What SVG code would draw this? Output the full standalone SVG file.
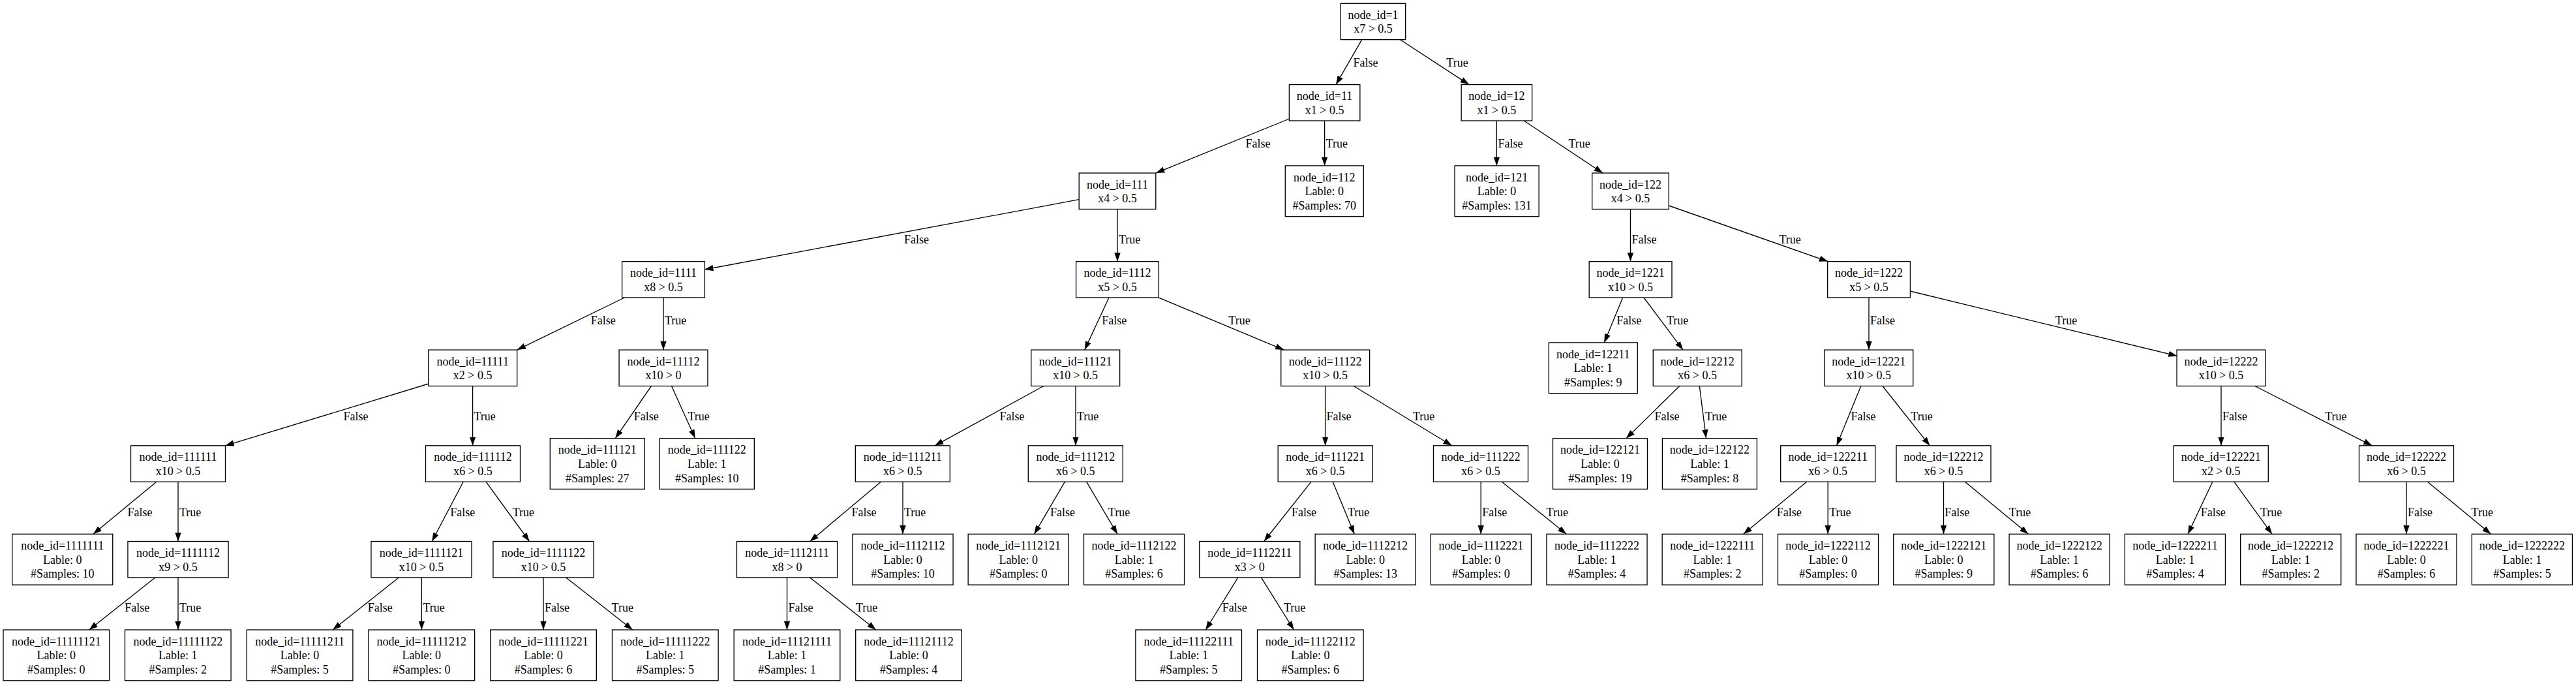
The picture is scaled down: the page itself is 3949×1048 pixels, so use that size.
<svg xmlns="http://www.w3.org/2000/svg" width="3949" height="1048" viewBox="0 0 3949 1048">
<style>
.n rect{fill:none;stroke:#000;stroke-width:1.33}
.n text{font-family:"Liberation Serif","Times New Roman",serif;font-size:18px;text-anchor:middle;fill:#000}
.e path{fill:none;stroke:#000;stroke-width:1.33;marker-end:url(#ah)}
.e text{font-family:"Liberation Serif","Times New Roman",serif;font-size:18px;fill:#000}
</style>
<defs>
<marker id="ah" markerUnits="userSpaceOnUse" viewBox="0 0 13.3 9.4" refX="13.3" refY="4.7" markerWidth="13.3" markerHeight="9.4" orient="auto"><path d="M0,0L13.3,4.7L0,9.4z" fill="#000"/></marker>
</defs>
<rect width="3949" height="1048" fill="#fff"/>
<g id="edges" class="e">
<path d="M2087.8,60.7L2048,129.6"/><text x="2074.5" y="102">False</text>
<path d="M2146.4,60.7L2252,129.6"/><text x="2217.3" y="102">True</text>
<path d="M1976.5,182L1772,265.1"/><text x="1909.4" y="226.3">False</text>
<path d="M2030.6,185L2030.6,253.9"/><text x="2032.6" y="226.3">True</text>
<path d="M2294.4,185L2294.4,253.9"/><text x="2296.4" y="226.3">False</text>
<path d="M2336.2,185L2457,265.1"/><text x="2404.4" y="226.3">True</text>
<path d="M1654.3,305.7L1080.2,413"/><text x="1386" y="372.9">False</text>
<path d="M1713,320.5L1713,400.6"/><text x="1715" y="372.9">True</text>
<path d="M2499.5,320.5L2499.5,400.6"/><text x="2501.5" y="372.9">False</text>
<path d="M2558.2,315L2802.2,400.6"/><text x="2727.5" y="372.9">True</text>
<path d="M957.4,456L792.7,536.1"/><text x="905.7" y="497.2">False</text>
<path d="M1017,456L1017,536.1"/><text x="1019" y="497.2">True</text>
<path d="M1700,456L1662.7,536.1"/><text x="1689.3" y="497.2">False</text>
<path d="M1776,456L1968.3,536.1"/><text x="1883.3" y="497.2">True</text>
<path d="M2487.7,456L2459.3,524.9"/><text x="2478.3" y="497.2">False</text>
<path d="M2520,456L2580,536.1"/><text x="2555" y="497.2">True</text>
<path d="M2865,456L2865,536.1"/><text x="2867" y="497.2">False</text>
<path d="M2927.9,446L3337.6,545.4"/><text x="3150.8" y="497.2">True</text>
<path d="M657,588L345.4,682.8"/><text x="526.5" y="644">False</text>
<path d="M724.6,591.5L724.6,682.8"/><text x="726.5" y="644">True</text>
<path d="M998.4,591.5L943.3,671.6"/><text x="971.8" y="644">False</text>
<path d="M1029.5,591.5L1065.7,671.6"/><text x="1054.5" y="644">True</text>
<path d="M1599.8,591.5L1433,682.8"/><text x="1532.6" y="644">False</text>
<path d="M1649,591.5L1649,682.8"/><text x="1651" y="644">True</text>
<path d="M2031.6,591.5L2031.6,682.8"/><text x="2033.5" y="644">False</text>
<path d="M2075.3,591.5L2225.8,682.8"/><text x="2166" y="644">True</text>
<path d="M2574.7,591.5L2493,671.6"/><text x="2536.4" y="644">False</text>
<path d="M2605.3,591.5L2615.5,671.6"/><text x="2614" y="644">True</text>
<path d="M2852.8,591.5L2815.5,682.8"/><text x="2837.5" y="644">False</text>
<path d="M2886,591.5L2958.4,682.8"/><text x="2929.3" y="644">True</text>
<path d="M3405,591.5L3405,682.8"/><text x="3407" y="644">False</text>
<path d="M3456.8,591.5L3636.4,682.8"/><text x="3564.2" y="644">True</text>
<path d="M239.8,738.2L142.9,818.3"/><text x="195.4" y="790.7">False</text>
<path d="M273,738.2L273,829.5"/><text x="275" y="790.7">True</text>
<path d="M710.2,738.2L662.2,829.5"/><text x="690.3" y="790.7">False</text>
<path d="M745,738.2L811.6,829.5"/><text x="785.7" y="790.7">True</text>
<path d="M1350.4,738.2L1241.7,829.5"/><text x="1305.5" y="790.7">False</text>
<path d="M1384,738.2L1384,818.3"/><text x="1386" y="790.7">True</text>
<path d="M1632.4,738.2L1585.5,818.3"/><text x="1610" y="790.7">False</text>
<path d="M1665.6,738.2L1713,818.3"/><text x="1698.8" y="790.7">True</text>
<path d="M2010,738.2L1937.6,829.5"/><text x="1979.9" y="790.7">False</text>
<path d="M2043.2,738.2L2076.3,818.3"/><text x="2066" y="790.7">True</text>
<path d="M2270.2,738.2L2270.2,818.3"/><text x="2272.2" y="790.7">False</text>
<path d="M2302.3,738.2L2401.2,818.3"/><text x="2370.6" y="790.7">True</text>
<path d="M2769.6,738.2L2672.7,818.3"/><text x="2723.7" y="790.7">False</text>
<path d="M2802.2,738.2L2802.2,818.3"/><text x="2804.2" y="790.7">True</text>
<path d="M2979.5,738.2L2979.5,818.3"/><text x="2981.3" y="790.7">False</text>
<path d="M3012.4,738.2L3109.4,818.3"/><text x="3079.8" y="790.7">True</text>
<path d="M3391.8,738.2L3354.1,818.3"/><text x="3373.7" y="790.7">False</text>
<path d="M3424.8,738.2L3483.1,818.3"/><text x="3465" y="790.7">True</text>
<path d="M3689,738.2L3689,818.3"/><text x="3691" y="790.7">False</text>
<path d="M3721.5,738.2L3818.5,818.3"/><text x="3788.6" y="790.7">True</text>
<path d="M237.8,884.9L136.7,965"/><text x="191.3" y="937.4">False</text>
<path d="M273,884.9L273,965"/><text x="275" y="937.4">True</text>
<path d="M611.2,884.9L510.2,965"/><text x="563.8" y="937.4">False</text>
<path d="M646.4,884.9L646.4,965"/><text x="648.4" y="937.4">True</text>
<path d="M833,884.9L833,965"/><text x="835" y="937.4">False</text>
<path d="M867.8,884.9L969.8,965"/><text x="937.6" y="937.4">True</text>
<path d="M1206.5,884.9L1206.5,965"/><text x="1208.5" y="937.4">False</text>
<path d="M1241.7,884.9L1342.8,965"/><text x="1312" y="937.4">True</text>
<path d="M1897.8,884.9L1848.3,965"/><text x="1873.8" y="937.4">False</text>
<path d="M1933.5,884.9L1983.5,965"/><text x="1968" y="937.4">True</text>
</g>
<g id="n1" class="n"><rect x="2055.3" y="5.3" width="99.4" height="55.4"/><text x="2105" y="28.7">node_id=1</text><text x="2105" y="50.4">x7 &gt; 0.5</text></g>
<g id="n11" class="n"><rect x="1976.35" y="129.6" width="108.5" height="55.4"/><text x="2030.6" y="153">node_id=11</text><text x="2030.6" y="174.7">x1 &gt; 0.5</text></g>
<g id="n12" class="n"><rect x="2240.15" y="129.6" width="108.5" height="55.4"/><text x="2294.4" y="153">node_id=12</text><text x="2294.4" y="174.7">x1 &gt; 0.5</text></g>
<g id="n111" class="n"><rect x="1654.2" y="265.1" width="117.6" height="55.4"/><text x="1713" y="288.5">node_id=111</text><text x="1713" y="310.2">x4 &gt; 0.5</text></g>
<g id="n112" class="n"><rect x="1970.3" y="253.9" width="120" height="77.8"/><text x="2030.3" y="277.6">node_id=112</text><text x="2030.3" y="299.3">Lable: 0</text><text x="2030.3" y="321">#Samples: 70</text></g>
<g id="n121" class="n"><rect x="2230.05" y="253.9" width="129.1" height="77.8"/><text x="2294.6" y="277.6">node_id=121</text><text x="2294.6" y="299.3">Lable: 0</text><text x="2294.6" y="321">#Samples: 131</text></g>
<g id="n122" class="n"><rect x="2440.7" y="265.1" width="117.6" height="55.4"/><text x="2499.5" y="288.5">node_id=122</text><text x="2499.5" y="310.2">x4 &gt; 0.5</text></g>
<g id="n1111" class="n"><rect x="953.6" y="400.6" width="126.8" height="55.4"/><text x="1017" y="424">node_id=1111</text><text x="1017" y="445.7">x8 &gt; 0.5</text></g>
<g id="n1112" class="n"><rect x="1649.6" y="400.6" width="126.8" height="55.4"/><text x="1713" y="424">node_id=1112</text><text x="1713" y="445.7">x5 &gt; 0.5</text></g>
<g id="n1221" class="n"><rect x="2436.2" y="400.6" width="126.8" height="55.4"/><text x="2499.6" y="424">node_id=1221</text><text x="2499.6" y="445.7">x10 &gt; 0.5</text></g>
<g id="n1222" class="n"><rect x="2801.6" y="400.6" width="126.8" height="55.4"/><text x="2865" y="424">node_id=1222</text><text x="2865" y="445.7">x5 &gt; 0.5</text></g>
<g id="n11111" class="n"><rect x="656.75" y="536.1" width="135.9" height="55.4"/><text x="724.7" y="559.5">node_id=11111</text><text x="724.7" y="581.2">x2 &gt; 0.5</text></g>
<g id="n11112" class="n"><rect x="949.05" y="536.1" width="135.9" height="55.4"/><text x="1017" y="559.5">node_id=11112</text><text x="1017" y="581.2">x10 &gt; 0</text></g>
<g id="n11121" class="n"><rect x="1580.75" y="536.1" width="135.9" height="55.4"/><text x="1648.7" y="559.5">node_id=11121</text><text x="1648.7" y="581.2">x10 &gt; 0.5</text></g>
<g id="n11122" class="n"><rect x="1963.75" y="536.1" width="135.9" height="55.4"/><text x="2031.7" y="559.5">node_id=11122</text><text x="2031.7" y="581.2">x10 &gt; 0.5</text></g>
<g id="n12211" class="n"><rect x="2374.35" y="524.9" width="135.9" height="77.8"/><text x="2442.3" y="548.6">node_id=12211</text><text x="2442.3" y="570.3">Lable: 1</text><text x="2442.3" y="592">#Samples: 9</text></g>
<g id="n12212" class="n"><rect x="2534.25" y="536.1" width="135.9" height="55.4"/><text x="2602.2" y="559.5">node_id=12212</text><text x="2602.2" y="581.2">x6 &gt; 0.5</text></g>
<g id="n12221" class="n"><rect x="2796.85" y="536.1" width="135.9" height="55.4"/><text x="2864.8" y="559.5">node_id=12221</text><text x="2864.8" y="581.2">x10 &gt; 0.5</text></g>
<g id="n12222" class="n"><rect x="3337.05" y="536.1" width="135.9" height="55.4"/><text x="3405" y="559.5">node_id=12222</text><text x="3405" y="581.2">x10 &gt; 0.5</text></g>
<g id="n111111" class="n"><rect x="200.5" y="682.8" width="145" height="55.4"/><text x="273" y="706.2">node_id=111111</text><text x="273" y="727.9">x10 &gt; 0.5</text></g>
<g id="n111112" class="n"><rect x="652.5" y="682.8" width="145" height="55.4"/><text x="725" y="706.2">node_id=111112</text><text x="725" y="727.9">x6 &gt; 0.5</text></g>
<g id="n111121" class="n"><rect x="843.3" y="671.6" width="145" height="77.8"/><text x="915.8" y="695.3">node_id=111121</text><text x="915.8" y="717">Lable: 0</text><text x="915.8" y="738.7">#Samples: 27</text></g>
<g id="n111122" class="n"><rect x="1011.3" y="671.6" width="145" height="77.8"/><text x="1083.8" y="695.3">node_id=111122</text><text x="1083.8" y="717">Lable: 1</text><text x="1083.8" y="738.7">#Samples: 10</text></g>
<g id="n111211" class="n"><rect x="1311.3" y="682.8" width="145" height="55.4"/><text x="1383.8" y="706.2">node_id=111211</text><text x="1383.8" y="727.9">x6 &gt; 0.5</text></g>
<g id="n111212" class="n"><rect x="1576.3" y="682.8" width="145" height="55.4"/><text x="1648.8" y="706.2">node_id=111212</text><text x="1648.8" y="727.9">x6 &gt; 0.5</text></g>
<g id="n111221" class="n"><rect x="1959.2" y="682.8" width="145" height="55.4"/><text x="2031.7" y="706.2">node_id=111221</text><text x="2031.7" y="727.9">x6 &gt; 0.5</text></g>
<g id="n111222" class="n"><rect x="2197.5" y="682.8" width="145" height="55.4"/><text x="2270" y="706.2">node_id=111222</text><text x="2270" y="727.9">x6 &gt; 0.5</text></g>
<g id="n122121" class="n"><rect x="2380.5" y="671.6" width="145" height="77.8"/><text x="2453" y="695.3">node_id=122121</text><text x="2453" y="717">Lable: 0</text><text x="2453" y="738.7">#Samples: 19</text></g>
<g id="n122122" class="n"><rect x="2548.4" y="671.6" width="145" height="77.8"/><text x="2620.9" y="695.3">node_id=122122</text><text x="2620.9" y="717">Lable: 1</text><text x="2620.9" y="738.7">#Samples: 8</text></g>
<g id="n122211" class="n"><rect x="2729.7" y="682.8" width="145" height="55.4"/><text x="2802.2" y="706.2">node_id=122211</text><text x="2802.2" y="727.9">x6 &gt; 0.5</text></g>
<g id="n122212" class="n"><rect x="2907" y="682.8" width="145" height="55.4"/><text x="2979.5" y="706.2">node_id=122212</text><text x="2979.5" y="727.9">x6 &gt; 0.5</text></g>
<g id="n122221" class="n"><rect x="3332.3" y="682.8" width="145" height="55.4"/><text x="3404.8" y="706.2">node_id=122221</text><text x="3404.8" y="727.9">x2 &gt; 0.5</text></g>
<g id="n122222" class="n"><rect x="3616.5" y="682.8" width="145" height="55.4"/><text x="3689" y="706.2">node_id=122222</text><text x="3689" y="727.9">x6 &gt; 0.5</text></g>
<g id="n1111111" class="n"><rect x="18.65" y="818.3" width="154.1" height="77.8"/><text x="95.7" y="842">node_id=1111111</text><text x="95.7" y="863.7">Lable: 0</text><text x="95.7" y="885.4">#Samples: 10</text></g>
<g id="n1111112" class="n"><rect x="195.95" y="829.5" width="154.1" height="55.4"/><text x="273" y="852.9">node_id=1111112</text><text x="273" y="874.6">x9 &gt; 0.5</text></g>
<g id="n1111121" class="n"><rect x="568.95" y="829.5" width="154.1" height="55.4"/><text x="646" y="852.9">node_id=1111121</text><text x="646" y="874.6">x10 &gt; 0.5</text></g>
<g id="n1111122" class="n"><rect x="755.95" y="829.5" width="154.1" height="55.4"/><text x="833" y="852.9">node_id=1111122</text><text x="833" y="874.6">x10 &gt; 0.5</text></g>
<g id="n1112111" class="n"><rect x="1129.45" y="829.5" width="154.1" height="55.4"/><text x="1206.5" y="852.9">node_id=1112111</text><text x="1206.5" y="874.6">x8 &gt; 0</text></g>
<g id="n1112112" class="n"><rect x="1306.95" y="818.3" width="154.1" height="77.8"/><text x="1384" y="842">node_id=1112112</text><text x="1384" y="863.7">Lable: 0</text><text x="1384" y="885.4">#Samples: 10</text></g>
<g id="n1112121" class="n"><rect x="1484.15" y="818.3" width="154.1" height="77.8"/><text x="1561.2" y="842">node_id=1112121</text><text x="1561.2" y="863.7">Lable: 0</text><text x="1561.2" y="885.4">#Samples: 0</text></g>
<g id="n1112122" class="n"><rect x="1661.45" y="818.3" width="154.1" height="77.8"/><text x="1738.5" y="842">node_id=1112122</text><text x="1738.5" y="863.7">Lable: 1</text><text x="1738.5" y="885.4">#Samples: 6</text></g>
<g id="n1112211" class="n"><rect x="1838.75" y="829.5" width="154.1" height="55.4"/><text x="1915.8" y="852.9">node_id=1112211</text><text x="1915.8" y="874.6">x3 &gt; 0</text></g>
<g id="n1112212" class="n"><rect x="2016.15" y="818.3" width="154.1" height="77.8"/><text x="2093.2" y="842">node_id=1112212</text><text x="2093.2" y="863.7">Lable: 0</text><text x="2093.2" y="885.4">#Samples: 13</text></g>
<g id="n1112221" class="n"><rect x="2193.35" y="818.3" width="154.1" height="77.8"/><text x="2270.4" y="842">node_id=1112221</text><text x="2270.4" y="863.7">Lable: 0</text><text x="2270.4" y="885.4">#Samples: 0</text></g>
<g id="n1112222" class="n"><rect x="2370.95" y="818.3" width="154.1" height="77.8"/><text x="2448" y="842">node_id=1112222</text><text x="2448" y="863.7">Lable: 1</text><text x="2448" y="885.4">#Samples: 4</text></g>
<g id="n1222111" class="n"><rect x="2548.15" y="818.3" width="154.1" height="77.8"/><text x="2625.2" y="842">node_id=1222111</text><text x="2625.2" y="863.7">Lable: 1</text><text x="2625.2" y="885.4">#Samples: 2</text></g>
<g id="n1222112" class="n"><rect x="2725.45" y="818.3" width="154.1" height="77.8"/><text x="2802.5" y="842">node_id=1222112</text><text x="2802.5" y="863.7">Lable: 0</text><text x="2802.5" y="885.4">#Samples: 0</text></g>
<g id="n1222121" class="n"><rect x="2902.75" y="818.3" width="154.1" height="77.8"/><text x="2979.8" y="842">node_id=1222121</text><text x="2979.8" y="863.7">Lable: 0</text><text x="2979.8" y="885.4">#Samples: 9</text></g>
<g id="n1222122" class="n"><rect x="3080.05" y="818.3" width="154.1" height="77.8"/><text x="3157.1" y="842">node_id=1222122</text><text x="3157.1" y="863.7">Lable: 1</text><text x="3157.1" y="885.4">#Samples: 6</text></g>
<g id="n1222211" class="n"><rect x="3257.35" y="818.3" width="154.1" height="77.8"/><text x="3334.4" y="842">node_id=1222211</text><text x="3334.4" y="863.7">Lable: 1</text><text x="3334.4" y="885.4">#Samples: 4</text></g>
<g id="n1222212" class="n"><rect x="3434.65" y="818.3" width="154.1" height="77.8"/><text x="3511.7" y="842">node_id=1222212</text><text x="3511.7" y="863.7">Lable: 1</text><text x="3511.7" y="885.4">#Samples: 2</text></g>
<g id="n1222221" class="n"><rect x="3611.95" y="818.3" width="154.1" height="77.8"/><text x="3689" y="842">node_id=1222221</text><text x="3689" y="863.7">Lable: 0</text><text x="3689" y="885.4">#Samples: 6</text></g>
<g id="n1222222" class="n"><rect x="3789.35" y="818.3" width="154.1" height="77.8"/><text x="3866.4" y="842">node_id=1222222</text><text x="3866.4" y="863.7">Lable: 1</text><text x="3866.4" y="885.4">#Samples: 5</text></g>
<g id="n11111121" class="n"><rect x="5" y="965" width="162.6" height="77.8"/><text x="86.3" y="988.7">node_id=11111121</text><text x="86.3" y="1010.4">Lable: 0</text><text x="86.3" y="1032.1">#Samples: 0</text></g>
<g id="n11111122" class="n"><rect x="191.5" y="965" width="162.6" height="77.8"/><text x="272.8" y="988.7">node_id=11111122</text><text x="272.8" y="1010.4">Lable: 1</text><text x="272.8" y="1032.1">#Samples: 2</text></g>
<g id="n11111211" class="n"><rect x="378.3" y="965" width="162.6" height="77.8"/><text x="459.6" y="988.7">node_id=11111211</text><text x="459.6" y="1010.4">Lable: 0</text><text x="459.6" y="1032.1">#Samples: 5</text></g>
<g id="n11111212" class="n"><rect x="565" y="965" width="162.6" height="77.8"/><text x="646.3" y="988.7">node_id=11111212</text><text x="646.3" y="1010.4">Lable: 0</text><text x="646.3" y="1032.1">#Samples: 0</text></g>
<g id="n11111221" class="n"><rect x="751.7" y="965" width="162.6" height="77.8"/><text x="833" y="988.7">node_id=11111221</text><text x="833" y="1010.4">Lable: 0</text><text x="833" y="1032.1">#Samples: 6</text></g>
<g id="n11111222" class="n"><rect x="938.5" y="965" width="162.6" height="77.8"/><text x="1019.8" y="988.7">node_id=11111222</text><text x="1019.8" y="1010.4">Lable: 1</text><text x="1019.8" y="1032.1">#Samples: 5</text></g>
<g id="n11121111" class="n"><rect x="1125.2" y="965" width="162.6" height="77.8"/><text x="1206.5" y="988.7">node_id=11121111</text><text x="1206.5" y="1010.4">Lable: 1</text><text x="1206.5" y="1032.1">#Samples: 1</text></g>
<g id="n11121112" class="n"><rect x="1311.7" y="965" width="162.6" height="77.8"/><text x="1393" y="988.7">node_id=11121112</text><text x="1393" y="1010.4">Lable: 0</text><text x="1393" y="1032.1">#Samples: 4</text></g>
<g id="n11122111" class="n"><rect x="1740.9" y="965" width="162.6" height="77.8"/><text x="1822.2" y="988.7">node_id=11122111</text><text x="1822.2" y="1010.4">Lable: 1</text><text x="1822.2" y="1032.1">#Samples: 5</text></g>
<g id="n11122112" class="n"><rect x="1927.5" y="965" width="162.6" height="77.8"/><text x="2008.8" y="988.7">node_id=11122112</text><text x="2008.8" y="1010.4">Lable: 0</text><text x="2008.8" y="1032.1">#Samples: 6</text></g>
</svg>
